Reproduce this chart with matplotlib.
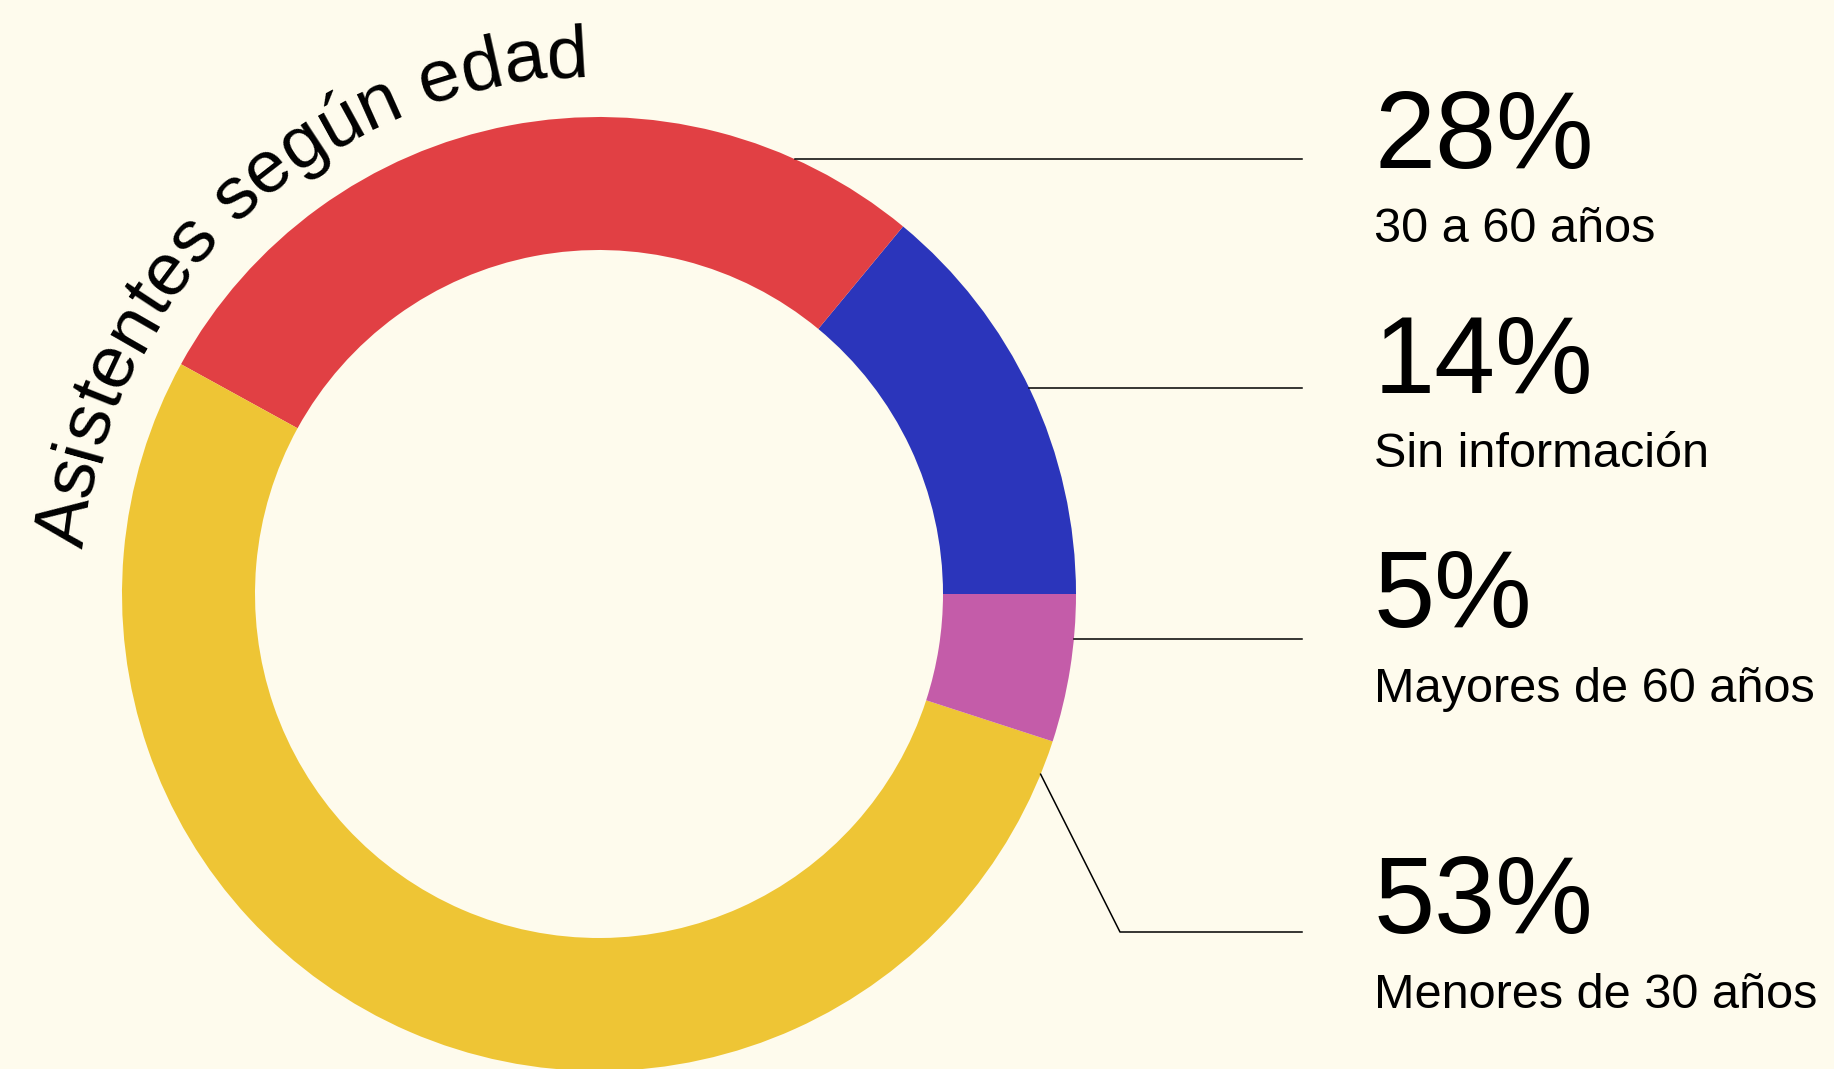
import numpy as np
import matplotlib
matplotlib.use("Agg")
import matplotlib.pyplot as plt
from matplotlib.font_manager import FontProperties, findfont, get_font

# data
categories = ["Sin información", "30 a 60 años", "Menores de 30 años", "Mayores de 60 años"]
values = [14, 28, 53, 5]
colors = ["#2B35BB", "#E14044", "#EEC535", "#C45CA9"]
title = "Asistentes según edad"

# order of the labels on the right
label_order = ["30 a 60 años", "Sin información", "Mayores de 60 años", "Menores de 30 años"]

bg = "#FEFBED"
W, H = 1834, 1069
plt.rcParams["font.family"] = ["Liberation Sans", "DejaVu Sans"]

fig = plt.figure(figsize=(W / 100, H / 100), dpi=100, facecolor=bg)
ax = fig.add_axes([0, 0, 1, 1])
ax.set_facecolor(bg)

cx, cy = 599, H - 594
R, ring = 477, 133

ax.pie(values, colors=colors, startangle=0, counterclock=True,
       radius=R, center=(cx, cy), wedgeprops=dict(width=ring, linewidth=0))
ax.set_xlim(0, W)
ax.set_ylim(0, H)
ax.set_aspect("auto")
ax.axis("off")

# curved title along the outer arc
fsize = 54
fp = FontProperties(family="Liberation Sans", size=fsize)
font = get_font(findfont(fp))
font.set_size(fsize, 100)
adv = []
for ch in title:
    g = font.load_char(ord(ch))
    adv.append(g.linearHoriAdvance / 65536)
r_txt = 518
theta0 = np.deg2rad(175.0)
s = 0
for ch, a in zip(title, adv):
    mid = s + a / 2
    th = theta0 - mid / r_txt
    ax.text(cx + r_txt * np.cos(th), cy + r_txt * np.sin(th), ch,
            fontproperties=fp, ha="center", va="baseline",
            rotation=np.rad2deg(th) - 90, rotation_mode="anchor")
    s += a

# labels on the right
pct_y = [168, 393, 627, 933]
sub_y = [242, 467, 702, 1008]
line_y = [159, 388, 639]
x_txt = 1374
x_end = 1302
for i, name in enumerate(label_order):
    v = values[categories.index(name)]
    ax.text(x_txt, H - pct_y[i], f"{v}%", fontsize=79, ha="left", va="baseline")
    ax.text(x_txt, H - sub_y[i], name, fontsize=35, ha="left", va="baseline")

lw = 1.1
for yy in line_y:
    dy = (H - yy) - cy
    x0 = cx + np.sqrt(R ** 2 - dy ** 2)
    ax.plot([x0, x_end], [H - yy, H - yy], color="black", lw=lw)

# bent leader for the last label
ang = np.deg2rad(-22.2)
ax.plot([cx + R * np.cos(ang), 1120, x_end],
        [cy + R * np.sin(ang), H - 932, H - 932], color="black", lw=lw)

fig.savefig("out.png", dpi=100, facecolor=bg)
